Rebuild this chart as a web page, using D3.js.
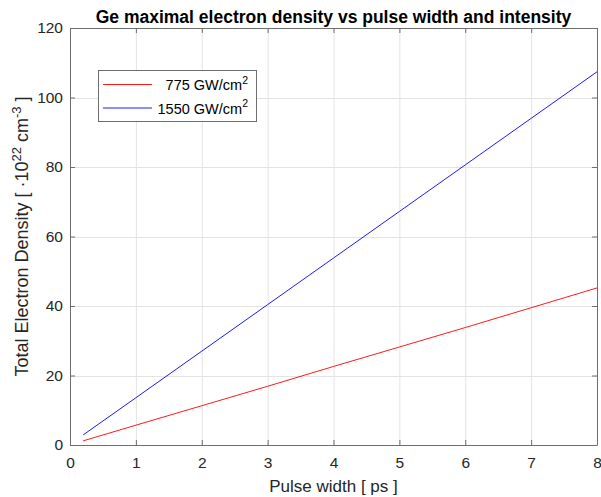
<!DOCTYPE html>
<html><head><meta charset="utf-8">
<script src="https://cdn.jsdelivr.net/npm/d3@7"></script>
<style>body{margin:0;background:#fff}svg{display:block}text{font-family:"Liberation Sans",Arial,sans-serif}</style>
</head><body><svg id="c" width="601" height="497"></svg>
<script>
const pulseWidth = [0.2, 1, 2, 3, 4, 5, 6, 7, 8];
const density775 = [1.2, 5.7, 11.3, 16.9, 22.6, 28.2, 33.8, 39.5, 45.2];
const density1550 = [2.9, 13.6, 27.0, 40.4, 53.8, 67.2, 80.6, 94.0, 107.4];
const xTicks = [0, 1, 2, 3, 4, 5, 6, 7, 8];
const yTicks = [0, 20, 40, 60, 80, 100, 120];
const seriesNames = ["775", "1550"];
const seriesColors = ["#ff0000", "#0000ff"];

const svg = d3.select("#c");
const L = 70, R = 597, T = 28, B = 445;
const x = d3.scaleLinear().domain([0, 8]).range([L, R]);
const y = d3.scaleLinear().domain([0, 120]).range([B, T]);
const axisCol = "#262626";
const boxCol = "#6e6e6e";

// grid
const g = svg.append("g");
g.selectAll(".gx").data(xTicks.slice(1, -1)).enter().append("line")
  .attr("x1", d => x(d) + 0.5).attr("x2", d => x(d) + 0.5).attr("y1", T).attr("y2", B)
  .attr("stroke", "#e3e3e3").attr("stroke-width", 1);
g.selectAll(".gy").data(yTicks.slice(1, -1)).enter().append("line")
  .attr("y1", d => Math.round(y(d)) + 0.5).attr("y2", d => Math.round(y(d)) + 0.5).attr("x1", L).attr("x2", R)
  .attr("stroke", "#e3e3e3").attr("stroke-width", 1);

// lines
const series = [density775, density1550];
const line = d3.line().x((d, i) => x(pulseWidth[i])).y(d => y(d));
series.forEach((s, k) => {
  svg.append("path").datum(s).attr("d", line).attr("fill", "none")
    .attr("stroke", seriesColors[k]).attr("stroke-width", 0.9);
});

// axes
const fmt = d3.format("d");
const ax = svg.append("g").attr("transform", `translate(0,${B})`)
  .call(d3.axisBottom(x).tickValues(xTicks).tickFormat(fmt).tickSizeInner(-5).tickSizeOuter(0).tickPadding(12));
const axT = svg.append("g").attr("transform", `translate(0,${T})`)
  .call(d3.axisTop(x).tickValues(xTicks).tickFormat("").tickSizeInner(-5).tickSizeOuter(0));
const ay = svg.append("g").attr("transform", `translate(${L},0)`)
  .call(d3.axisLeft(y).tickValues(yTicks).tickFormat(fmt).tickSizeInner(-5).tickSizeOuter(0).tickPadding(7));
const ayR = svg.append("g").attr("transform", `translate(${R},0)`)
  .call(d3.axisRight(y).tickValues(yTicks).tickFormat("").tickSizeInner(-5).tickSizeOuter(0));
[ax, axT, ay, ayR].forEach(a => {
  a.selectAll(".domain").attr("stroke", boxCol).attr("stroke-width", 1);
  a.selectAll(".tick line").attr("stroke", boxCol);
  a.selectAll("text").attr("fill", axisCol).style("font-size", "15.5px").style("font-family", "'Liberation Sans',Arial,sans-serif");
});

// title
svg.append("text").attr("x", (L + R) / 2).attr("y", 23).attr("text-anchor", "middle")
  .style("font-size", "17.5px").style("font-weight", "bold").attr("fill", "#000")
  .text("Ge maximal electron density vs pulse width and intensity");

// x label
svg.append("text").attr("x", (L + R) / 2).attr("y", 492).attr("text-anchor", "middle")
  .style("font-size", "17px").attr("fill", axisCol).text("Pulse width [ ps ]");

// y label
const yl = svg.append("text").attr("transform", `translate(28,${(T + B) / 2}) rotate(-90)`)
  .attr("text-anchor", "middle").style("font-size", "18px").attr("fill", axisCol);
yl.append("tspan").text("Total Electron Density [ ·10");
yl.append("tspan").attr("dy", -7).style("font-size", "13px").text("22");
yl.append("tspan").attr("dy", 7).text(" cm");
yl.append("tspan").attr("dy", -7).style("font-size", "13px").text("-3");
yl.append("tspan").attr("dy", 7).text(" ]");

// legend
const lg = svg.append("g");
lg.append("rect").attr("x", 98.5).attr("y", 70.5).attr("width", 158).attr("height", 51)
  .attr("fill", "#fff").attr("stroke", boxCol).attr("stroke-width", 1);
seriesNames.forEach((n, k) => {
  const yy = 84.5 + k * 23.5;
  lg.append("line").attr("x1", 103).attr("x2", 152).attr("y1", yy).attr("y2", yy)
    .attr("stroke", seriesColors[k]).attr("stroke-width", 0.9);
  const t = lg.append("text").attr("x", 248).attr("y", yy + 5.5).attr("text-anchor", "end")
    .style("font-size", "14.5px").attr("fill", "#000");
  t.append("tspan").text(n + " GW/cm");
  t.append("tspan").attr("dy", -6.5).style("font-size", "10.5px").text("2");
});
</script></body></html>
